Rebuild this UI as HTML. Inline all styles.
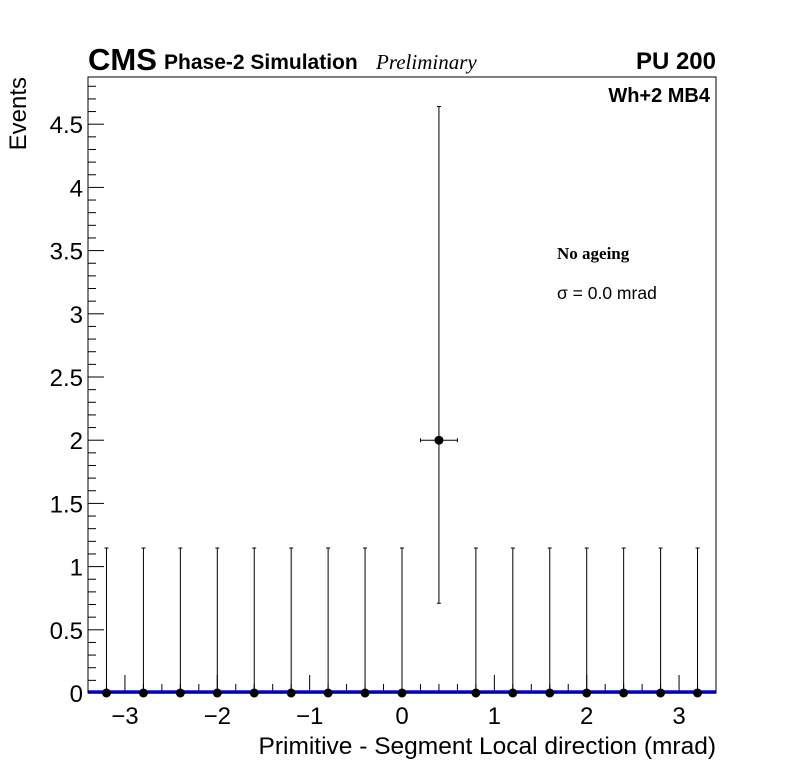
<!DOCTYPE html>
<html><head><meta charset="utf-8"><style>
html,body{margin:0;padding:0;background:#fff;}
svg{display:block;font-family:"Liberation Sans",sans-serif;}
</style></head><body>
<svg id="chart" width="796" height="772">
<rect x="0" y="0" width="796" height="772" fill="#fff"/>
<g id="marks"></g>
<rect x="88" y="77" width="628" height="616" fill="none" stroke="#000" stroke-width="1"/>
<text x="88" y="70" font-size="31" font-weight="bold">CMS</text>
<text x="164" y="69" font-size="21" font-weight="bold">Phase-2 Simulation</text>
<text x="376" y="69" font-size="21" font-style="italic" font-family="Liberation Serif, serif">Preliminary</text>
<text x="716" y="69" font-size="24" font-weight="bold" text-anchor="end">PU 200</text>
<text x="710" y="102" font-size="20" font-weight="bold" text-anchor="end">Wh+2 MB4</text>
<text x="557" y="259" font-size="17" font-weight="bold" font-family="Liberation Serif, serif">No ageing</text>
<text x="557" y="299" font-size="17.5">σ = 0.0 mrad</text>
<text x="0" y="0" font-size="24" text-anchor="end" transform="translate(26,77) rotate(-90)">Events</text>
<text x="716" y="754" font-size="24.5" text-anchor="end">Primitive - Segment Local direction (mrad)</text>
</svg>
<script>
const xCenters=[-3.2,-2.8,-2.4,-2.0,-1.6,-1.2,-0.8,-0.4,0.0,0.4,0.8,1.2,1.6,2.0,2.4,2.8,3.2];
const yValues=[0,0,0,0,0,0,0,0,0,2,0,0,0,0,0,0,0];
const yErrUp=[1.147,1.147,1.147,1.147,1.147,1.147,1.147,1.147,1.147,2.64,1.147,1.147,1.147,1.147,1.147,1.147,1.147];
const yErrDown=[0,0,0,0,0,0,0,0,0,1.29,0,0,0,0,0,0,0];
const xTickLabels=[-3,-2,-1,0,1,2,3];
const yTickLabels=[0,0.5,1,1.5,2,2.5,3,3.5,4,4.5];
const NS="http://www.w3.org/2000/svg";
const X0=88,X1=716,Y0=693,Y1=77,XMIN=-3.4,XMAX=3.4,YMAX=(693-77)/126.4;
function sx(v){return X0+(v-XMIN)/(XMAX-XMIN)*(X1-X0);}
function sy(v){return Y0-v*126.4;}
const g=document.getElementById('marks');
function mk(tag,attrs){const e=document.createElementNS(NS,tag);for(const k in attrs)e.setAttribute(k,attrs[k]);g.appendChild(e);return e;}
for(let i=0;i*0.1<=YMAX;i++){const v=i*0.1;const major=i%5===0;
 const t=mk('line',{x1:X0,x2:X0+(major?16:8),y1:sy(v),y2:sy(v),stroke:'#000','stroke-width':1});
 
 }
yTickLabels.forEach(v=>{const t=mk('text',{x:X0-5,y:sy(v)+9,'font-size':24,'text-anchor':'end'});t.textContent=String(v);
 
 });
for(let i=-17;i<=17;i++){const v=i*0.2;const major=i%5===0;
 const t=mk('line',{x1:sx(v),x2:sx(v),y1:Y0,y2:Y0-(major?18:9),stroke:'#000','stroke-width':1});
 
 }
xTickLabels.forEach(v=>{const t=mk('text',{x:sx(v),y:Y0+31,'font-size':24,'text-anchor':'middle'});t.textContent=(v<0?'\u2212'+(-v):String(v));
 
 });
xCenters.forEach((x,i)=>{const cx=sx(x),y=yValues[i];
 const e=mk('line',{x1:cx,x2:cx,y1:sy(y+yErrUp[i]),y2:sy(y-yErrDown[i]),stroke:'#000','stroke-width':1});
 
 
 [y+yErrUp[i],y-yErrDown[i]].forEach(v=>{if(v<=0)return;const c=mk('line',{x1:cx-2,x2:cx+2,y1:sy(v),y2:sy(v),stroke:'#000','stroke-width':1});
  
  });
 const h=mk('line',{x1:sx(x-0.2),x2:sx(x+0.2),y1:sy(y),y2:sy(y),stroke:'#000','stroke-width':1});
 
 
 if(y>0){[x-0.2,x+0.2].forEach(xx=>{const c=mk('line',{x1:sx(xx),x2:sx(xx),y1:sy(y)-2,y2:sy(y)+2,stroke:'#000','stroke-width':1});
  
  });}
});
const fit=mk('line',{x1:X0,x2:X1,y1:sy(0)-1,y2:sy(0)-1,stroke:'#0000ff','stroke-width':3.5});


xCenters.forEach((x,i)=>{const p=mk('circle',{cx:sx(x),cy:sy(yValues[i]),r:4.5,fill:'#000'});
 
 });
</script>
</body></html>
